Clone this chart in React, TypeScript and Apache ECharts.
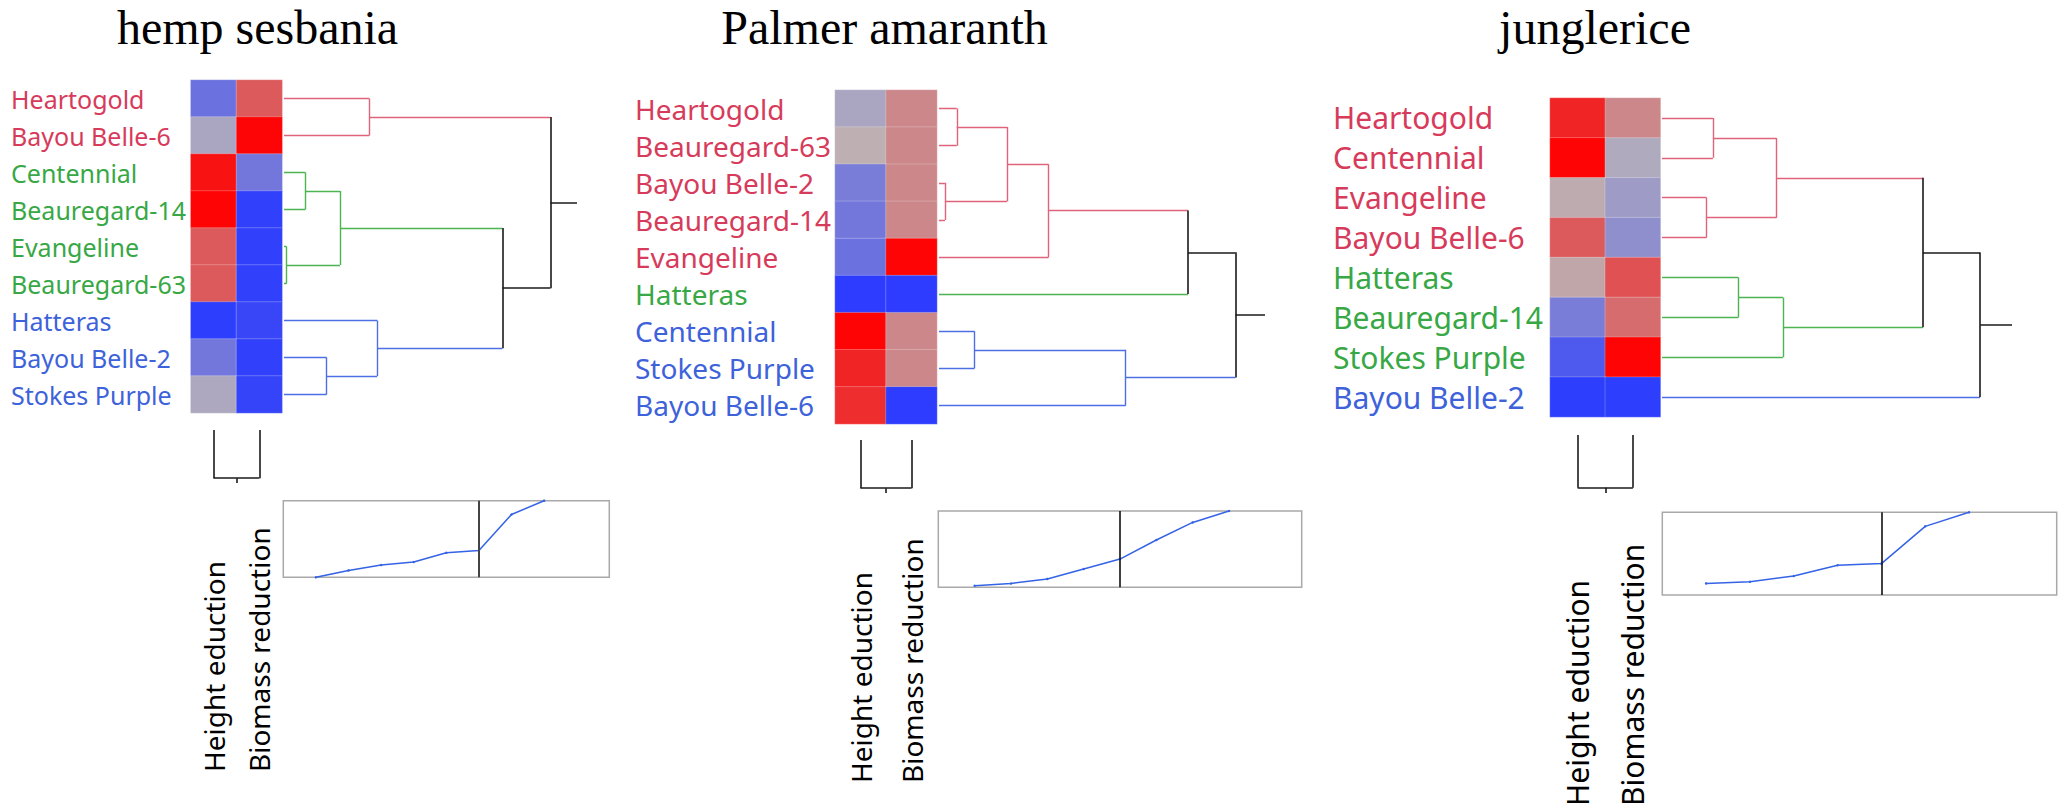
import React, { useEffect, useRef } from "react";
import * as echarts from "echarts";

// ---------- data ----------
const columnNames = ["Height eduction", "Biomass reduction"];

// hemp sesbania
const hempCultivars = ["Heartogold", "Bayou Belle-6", "Centennial", "Beauregard-14", "Evangeline", "Beauregard-63", "Hatteras", "Bayou Belle-2", "Stokes Purple"];
const hempClusters = ["R", "R", "G", "G", "G", "G", "B", "B", "B"];
const hempHeight = [-0.55, -0.12, 0.9, 0.98, 0.5, 0.5, -0.97, -0.5, -0.1];
const hempBiomass = [0.5, 0.97, -0.5, -0.95, -0.95, -0.95, -0.9, -0.95, -0.92];
const hempMerges: [number, number, number, string][] = [
  [0, 1, 0.32, "R"], [2, 3, 0.08, "G"], [4, 5, 0.01, "G"], [10, 11, 0.21, "G"],
  [7, 8, 0.16, "B"], [6, 13, 0.35, "B"], [12, 14, 0.82, "K"], [9, 15, 1.0, "K"],
];
const hempElbow = [0, 0.09, 0.16, 0.2, 0.32, 0.35, 0.82, 1.0];
const hempCut = 6;

// Palmer amaranth
const palmerCultivars = ["Heartogold", "Beauregard-63", "Bayou Belle-2", "Beauregard-14", "Evangeline", "Hatteras", "Centennial", "Stokes Purple", "Bayou Belle-6"];
const palmerClusters = ["R", "R", "R", "R", "R", "G", "B", "B", "B"];
const palmerHeight = [-0.12, 0.03, -0.45, -0.5, -0.55, -0.98, 0.98, 0.8, 0.75];
const palmerBiomass = [0.25, 0.25, 0.25, 0.25, 0.98, -0.98, 0.25, 0.25, -0.98];
const palmerMerges: [number, number, number, string][] = [
  [0, 1, 0.06, "R"], [2, 3, 0.02, "R"], [9, 10, 0.23, "R"], [11, 4, 0.37, "R"],
  [12, 5, 0.84, "K"], [6, 7, 0.12, "B"], [14, 8, 0.63, "B"], [13, 15, 1.0, "K"],
];
const palmerElbow = [0.02, 0.05, 0.11, 0.24, 0.37, 0.62, 0.85, 1.0];
const palmerCut = 5;

// junglerice
const jungleCultivars = ["Heartogold", "Centennial", "Evangeline", "Bayou Belle-6", "Hatteras", "Beauregard-14", "Stokes Purple", "Bayou Belle-2"];
const jungleClusters = ["R", "R", "R", "R", "G", "G", "G", "B"];
const jungleHeight = [0.8, 0.98, 0.05, 0.5, 0.08, -0.45, -0.75, -0.97];
const jungleBiomass = [0.25, -0.08, -0.2, -0.3, 0.55, 0.4, 0.98, -0.97];
const jungleMerges: [number, number, number, string][] = [
  [0, 1, 0.16, "R"], [2, 3, 0.14, "R"], [8, 9, 0.36, "R"], [4, 5, 0.24, "G"],
  [11, 6, 0.38, "G"], [10, 12, 0.82, "K"], [13, 7, 1.0, "K"],
];
const jungleElbow = [0.14, 0.16, 0.23, 0.36, 0.38, 0.83, 1.0];
const jungleCut = 5;

const columnMerges: [number, number, number, string][] = [[0, 1, 1.0, "K"]];

// ---------- styles ----------
const labelColors: Record<string, string> = { R: "#d73b5b", G: "#37a845", B: "#3d62da" };
const lineColors: Record<string, string> = { R: "#e0637c", G: "#4db452", B: "#4e6fe3", K: "#1a1a1a" };
const heatColors = ["#2a3aff", "#bbb4b8", "#ff0000"];

const panels = [
  {
    title: "hemp sesbania", titleX: 257.5,
    cultivars: hempCultivars, clusters: hempClusters, h: hempHeight, b: hempBiomass,
    merges: hempMerges, elbow: hempElbow, cut: hempCut,
    heat: { left: 190.7, top: 80, width: 91.5, height: 333 },
    dendro: { left: 284, width: 293 },
    col: { top: 430, height: 53 },
    box: { left: 283.3, top: 500.7, width: 326, height: 76.6 },
    labelSize: 25, labelStart: 11, colSize: 28, colStart: 772,
    cutColor: "#444", cutWidth: 2,
  },
  {
    title: "Palmer amaranth", titleX: 884.5,
    cultivars: palmerCultivars, clusters: palmerClusters, h: palmerHeight, b: palmerBiomass,
    merges: palmerMerges, elbow: palmerElbow, cut: palmerCut,
    heat: { left: 835, top: 90, width: 102, height: 334 },
    dendro: { left: 939, width: 326 },
    col: { top: 440, height: 53 },
    box: { left: 938.3, top: 511, width: 363.4, height: 76.3 },
    labelSize: 28, labelStart: 635, colSize: 28, colStart: 783,
    cutColor: "#111", cutWidth: 1.6,
  },
  {
    title: "junglerice", titleX: 1595,
    cultivars: jungleCultivars, clusters: jungleClusters, h: jungleHeight, b: jungleBiomass,
    merges: jungleMerges, elbow: jungleElbow, cut: jungleCut,
    heat: { left: 1550, top: 98, width: 110.5, height: 319 },
    dendro: { left: 1662, width: 350 },
    col: { top: 435, height: 58 },
    box: { left: 1662.3, top: 512.3, width: 394.4, height: 82.7 },
    labelSize: 30, labelStart: 1333, colSize: 30, colStart: 806,
    cutColor: "#111", cutWidth: 1.6,
  },
];

function dendroSegments(n: number, merges: [number, number, number, string][], leafColors: string[], stub: number) {
  const pos: number[] = [];
  const hgt: number[] = [];
  const col: string[] = [];
  for (let i = 0; i < n; i++) { pos[i] = i; hgt[i] = 0; col[i] = leafColors[i]; }
  const segs: { a: [number, number]; b: [number, number]; c: string }[] = [];
  merges.forEach(([p, q, h, c], k) => {
    const id = n + k;
    pos[id] = (pos[p] + pos[q]) / 2; hgt[id] = h; col[id] = c;
    segs.push({ a: [hgt[p], pos[p]], b: [h, pos[p]], c: col[p] });
    segs.push({ a: [hgt[q], pos[q]], b: [h, pos[q]], c: col[q] });
    segs.push({ a: [h, pos[p]], b: [h, pos[q]], c });
  });
  const root = n + merges.length - 1;
  segs.push({ a: [hgt[root], pos[root]], b: [stub, pos[root]], c: "K" });
  return segs;
}

function buildOption() {
  const grid: any[] = [];
  const xAxis: any[] = [];
  const yAxis: any[] = [];
  const series: any[] = [];
  const graphic: any[] = [];
  const heatSeriesIdx: number[] = [];
  const font = "Noto Sans";

  panels.forEach((p, pi) => {
    const n = p.cultivars.length;
    const g0 = pi * 4;
    // heatmap grid
    grid.push({ ...p.heat, outerBoundsMode: "none", containLabel: false });
    xAxis.push({
      type: "category", gridIndex: g0, data: columnNames, position: "bottom",
      axisLine: { show: false }, axisTick: { show: false }, splitLine: { show: false },
      axisLabel: {
        interval: 0, rotate: 90, align: "left", margin: p.colStart - (p.heat.top + p.heat.height),
        fontSize: p.colSize, fontFamily: font, color: "#000",
      },
    });
    yAxis.push({
      type: "category", gridIndex: g0, data: p.cultivars, inverse: true,
      axisLine: { show: false }, axisTick: { show: false }, splitLine: { show: false },
      axisLabel: {
        interval: 0, align: "left", margin: p.heat.left - p.labelStart,
        fontSize: p.labelSize, fontFamily: font,
        color: (v: string, idx: number) => {
          let i = p.cultivars.indexOf(v);
          if (i < 0) i = idx;
          return labelColors[p.clusters[i]];
        },
      },
    });
    const heatData: number[][] = [];
    for (let i = 0; i < n; i++) {
      heatData.push([0, i, p.h[i]]);
      heatData.push([1, i, p.b[i]]);
    }
    heatSeriesIdx.push(series.length);
    series.push({
      type: "heatmap", xAxisIndex: g0, yAxisIndex: g0, data: heatData,
      itemStyle: { borderColor: "rgba(255,255,255,0.3)", borderWidth: 0.8 },
      emphasis: { disabled: true }, silent: true,
    });

    // row dendrogram
    grid.push({ left: p.dendro.left, width: p.dendro.width, top: p.heat.top, height: p.heat.height, outerBoundsMode: "none", containLabel: false });
    xAxis.push({ type: "value", gridIndex: g0 + 1, min: 0, max: 1.1, show: false });
    yAxis.push({ type: "value", gridIndex: g0 + 1, min: -0.5, max: n - 0.5, inverse: true, show: false });
    const rowSegs = dendroSegments(n, p.merges, p.clusters, 1.1);
    series.push({
      type: "lines", coordinateSystem: "cartesian2d", xAxisIndex: g0 + 1, yAxisIndex: g0 + 1,
      silent: true, lineStyle: { width: 1.4, opacity: 1 },
      data: rowSegs.map((s) => ({ coords: [s.a, s.b], lineStyle: { color: lineColors[s.c], width: s.c === "K" ? 1.6 : 1.4 } })),
    });

    // column dendrogram
    grid.push({ left: p.heat.left, width: p.heat.width, top: p.col.top, height: p.col.height, outerBoundsMode: "none", containLabel: false });
    xAxis.push({ type: "value", gridIndex: g0 + 2, min: -0.5, max: 1.5, show: false });
    yAxis.push({ type: "value", gridIndex: g0 + 2, min: 0, max: 1.1, inverse: true, show: false });
    const colSegs = dendroSegments(2, columnMerges, ["K", "K"], 1.1);
    series.push({
      type: "lines", coordinateSystem: "cartesian2d", xAxisIndex: g0 + 2, yAxisIndex: g0 + 2,
      silent: true, lineStyle: { width: 1.6, color: lineColors.K, opacity: 1 },
      data: colSegs.map((s) => ({ coords: [[s.a[1], s.a[0]], [s.b[1], s.b[0]]] })),
    });

    // elbow plot
    grid.push({ ...p.box, show: true, borderColor: "#a9a9a9", borderWidth: 1.5, backgroundColor: "transparent", outerBoundsMode: "none", containLabel: false });
    xAxis.push({ type: "value", gridIndex: g0 + 3, min: 0, max: n + 1, show: false });
    yAxis.push({ type: "value", gridIndex: g0 + 3, min: 0, max: 1, show: false });
    series.push({
      type: "line", xAxisIndex: g0 + 3, yAxisIndex: g0 + 3, clip: true, silent: true,
      data: p.elbow.map((v, i) => [i + 1, v]),
      symbol: "circle", symbolSize: 2.5, showSymbol: true,
      itemStyle: { color: "#3563e6" }, lineStyle: { color: "#3563e6", width: 1.5 },
      markLine: {
        silent: true, symbol: ["none", "none"], label: { show: false },
        lineStyle: { color: p.cutColor, width: p.cutWidth, type: "solid" },
        data: [{ xAxis: p.cut }],
      },
    });

    graphic.push({
      type: "text", x: p.titleX, y: 27, silent: true,
      style: { text: p.title, fill: "#000", font: "48px 'Liberation Serif', serif", textAlign: "center", textVerticalAlign: "middle" },
    });
  });

  return {
    animation: false,
    backgroundColor: "#ffffff",
    grid, xAxis, yAxis, series, graphic,
    visualMap: [{
      type: "continuous", show: false, min: -1, max: 1, dimension: 2,
      seriesIndex: heatSeriesIdx, inRange: { color: heatColors },
    }],
  };
}

export default function App() {
  const ref = useRef<HTMLDivElement>(null);
  useEffect(() => {
    if (!ref.current) return;
    const chart = echarts.init(ref.current, undefined, { renderer: "svg" });
    chart.setOption(buildOption() as any);
    return () => chart.dispose();
  }, []);
  return (
    <div
      ref={ref}
      style={{ position: "absolute", left: 0, top: 0, width: 2064, height: 808, background: "#fff" }}
    />
  );
}
